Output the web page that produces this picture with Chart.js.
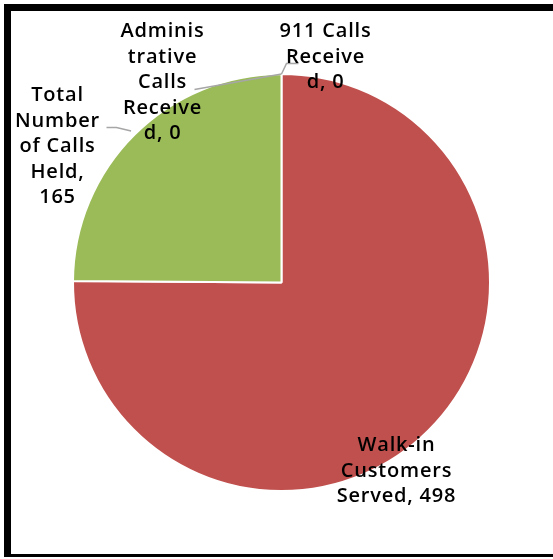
<!DOCTYPE html>
<html>
<head>
<meta charset="utf-8">
<script src="https://cdn.jsdelivr.net/npm/chart.js@4.4.1/dist/chart.umd.min.js"></script>
<style>
  html, body { margin: 0; padding: 0; background: #fff; }
  #wrap { position: relative; width: 553px; height: 559px; }
  #frame {
    position: absolute; left: 4px; top: 4px; width: 542px; height: 543px;
    border-style: solid; border-color: #000;
    border-width: 7px 2px 3px 7px;
  }
  #pieChart { position: absolute; left: 0; top: 0; }
</style>
</head>
<body>
<div id="wrap">
  <div id="frame"></div>
  <canvas id="pieChart" width="553" height="559"></canvas>
</div>
<script>
// Catégories (dans l'ordre du tracé, à partir de midi, sens horaire)
const categories = ['911 Calls Received', 'Walk-in Customers Served', 'Total Number of Calls Held', 'Administrative Calls Received'];
const values = [0, 498, 165, 0];
const sliceColors = ['#4F81BD', '#C0504D', '#9BBB59', '#8064A2'];

// Texte des étiquettes, coupé comme dans l'original
const labelLines = [
    ['911 Calls', 'Receive', 'd, 0'],
    ['Walk-in', 'Customers', 'Served, 498'],
    ['Total', 'Number', 'of Calls', 'Held,', '165'],
    ['Adminis', 'trative', 'Calls', 'Receive', 'd, 0']
];

// Placement des étiquettes (décalages par rapport au centre du camembert) et lignes de rappel
const labelPlacement = [
    { dx: 44, dy: -251, leader: [[5, -219], [17, -219]] },
    { dx: 115, dy: 163, leader: null },
    { dx: -224, dy: -187, leader: [[-165, -155], [-175, -155]] },
    { dx: -119, dy: -251, leader: [[-87, -193]] }
];

const FONT = '600 20px "Open Sans", sans-serif';
const LINE_H = 25.5;

const labelPlugin = {
    id: 'sliceLabels',
    afterDraw(chart) {
        const ctx = chart.ctx;
        const meta = chart.getDatasetMeta(0);
        ctx.save();
        meta.data.forEach((arc, i) => {
            const p = labelPlacement[i];
            const cx = arc.x, cy = arc.y;
            if (p.leader) {
                const mid = (arc.startAngle + arc.endAngle) / 2;
                const r = arc.outerRadius + (values[i] > 0 ? 5 : 0);
                ctx.beginPath();
                ctx.strokeStyle = '#A6A6A6';
                ctx.lineWidth = 1.5;
                ctx.moveTo(cx + r * Math.cos(mid), cy + r * Math.sin(mid));
                p.leader.forEach(pt => ctx.lineTo(cx + pt[0], cy + pt[1]));
                ctx.stroke();
            }
            ctx.font = FONT;
            ctx.letterSpacing = '0.8px';
            ctx.fillStyle = '#000';
            ctx.textAlign = 'center';
            ctx.textBaseline = 'middle';
            labelLines[i].forEach((line, k) => {
                ctx.fillText(line, cx + p.dx, cy + p.dy + k * LINE_H);
            });
        });
        ctx.restore();
    }
};

const ctx = document.getElementById('pieChart').getContext('2d');
const pieChart = new Chart(ctx, {
    type: 'pie',
    data: {
        labels: categories,
        datasets: [{
            data: values,
            backgroundColor: sliceColors,
            borderColor: '#FFFFFF',
            borderWidth: 2
        }]
    },
    options: {
        responsive: false,
        animation: false,
        layout: { padding: { left: 72, right: 62, top: 73, bottom: 67 } },
        plugins: {
            legend: { display: false },
            tooltip: { enabled: false }
        }
    },
    plugins: [labelPlugin]
});
</script>
</body>
</html>
